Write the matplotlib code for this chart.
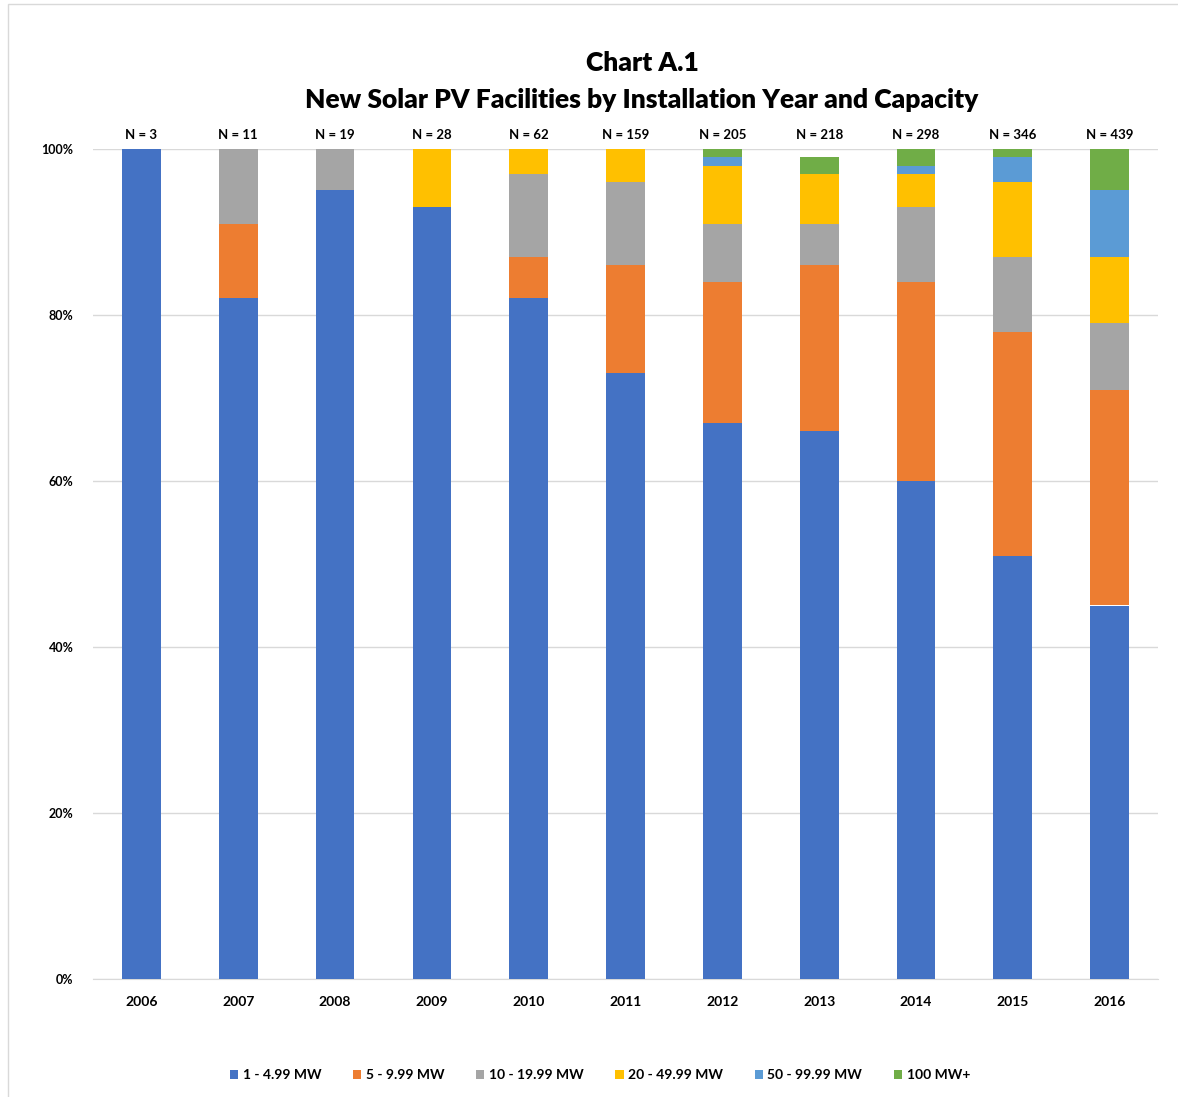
import numpy as np
import matplotlib.pyplot as plt
from matplotlib.patches import Rectangle

years = ['2006', '2007', '2008', '2009', '2010', '2011', '2012', '2013', '2014', '2015', '2016']
n_counts = [3, 11, 19, 28, 62, 159, 205, 218, 298, 346, 439]
series_names = ['1 - 4.99 MW', '5 - 9.99 MW', '10 - 19.99 MW', '20 - 49.99 MW', '50 - 99.99 MW', '100 MW+']
colors = ['#4472C4', '#ED7D31', '#A5A5A5', '#FFC000', '#5B9BD5', '#70AD47']

mw_1_5 = [100, 82, 95, 93, 82, 73, 67, 66, 60, 51, 45]
mw_5_10 = [0, 9, 0, 0, 5, 13, 17, 20, 24, 27, 26]
mw_10_20 = [0, 9, 5, 0, 10, 10, 7, 5, 9, 9, 8]
mw_20_50 = [0, 0, 0, 7, 3, 4, 7, 6, 4, 9, 8]
mw_50_100 = [0, 0, 0, 0, 0, 0, 1, 0, 1, 3, 8]
mw_100 = [0, 0, 0, 0, 0, 0, 1, 2, 2, 1, 5]

plt.rcParams['font.family'] = ['Lato', 'DejaVu Sans']

fig = plt.figure(figsize=(11.78, 10.97), dpi=100)
ax = fig.add_axes([93 / 1178, 1 - 979 / 1097, (1158 - 93) / 1178, (979 - 149) / 1097])

x = np.arange(len(years))
bottom = np.zeros(len(years))
for name, vals, c in zip(series_names, [mw_1_5, mw_5_10, mw_10_20, mw_20_50, mw_50_100, mw_100], colors):
    vals = np.array(vals, dtype=float)
    ax.bar(x, vals, 0.4, bottom=bottom, color=c, label=name, zorder=3, linewidth=0)
    bottom += vals

for i, n in enumerate(n_counts):
    ax.text(x[i], 101, 'N = %d' % n, ha='center', va='bottom', fontsize=9.5, fontweight='bold')

ax.set_xlim(-0.5, len(years) - 0.5)
ax.set_ylim(0, 100)
ax.set_yticks(range(0, 101, 20))
ax.set_yticklabels(['%d%%' % v for v in range(0, 101, 20)], fontsize=9, fontweight='bold')
ax.set_xticks(x)
ax.set_xticklabels(years, fontsize=10, fontweight='bold')
ax.tick_params(length=0, pad=12)
ax.tick_params(axis='y', pad=14)
ax.grid(axis='y', color='#D9D9D9', linewidth=1, zorder=0)
for s in ['top', 'right', 'left']:
    ax.spines[s].set_visible(False)
ax.spines['bottom'].set_color('#D9D9D9')

fig.text(0.545, 1 - 63 / 1097, 'Chart A.1', ha='center', va='center', fontsize=19, fontweight='heavy')
fig.text(0.545, 1 - 100 / 1097, 'New Solar PV Facilities by Installation Year and Capacity',
         ha='center', va='center', fontsize=19, fontweight='heavy')

handles, labels = ax.get_legend_handles_labels()
leg = fig.legend(handles, labels, loc='center', bbox_to_anchor=(600 / 1178, 1 - 1075 / 1097), ncol=6,
                 frameon=False, handlelength=0.6, handleheight=0.6, handletextpad=0.3, columnspacing=2.3,
                 prop={'size': 10, 'weight': 'bold'})

fig.patches.append(Rectangle((8 / 1178, -0.01), 1.1, 1 - 4 / 1097 + 0.01, transform=fig.transFigure,
                             fill=False, edgecolor='#D9D9D9', linewidth=1))

fig.savefig('out.png', dpi=100)
